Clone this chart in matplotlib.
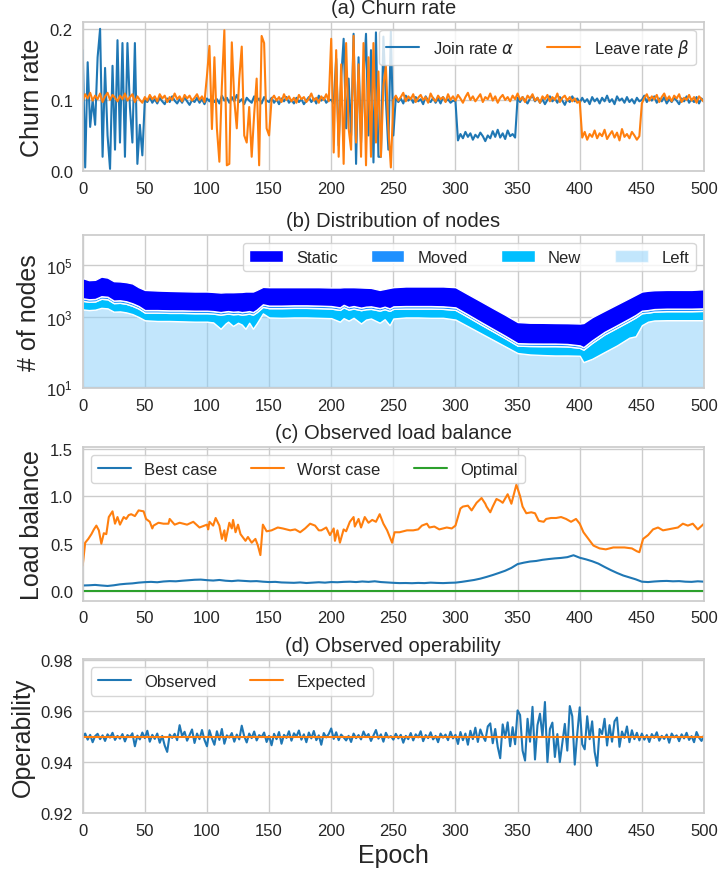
import numpy as np
import matplotlib
matplotlib.use("Agg")
import matplotlib.pyplot as plt
import seaborn as sns
from matplotlib.ticker import NullLocator

# ---- (a) churn rate, sampled every 2 epochs ----
epochs = np.arange(0, 501, 2)

join_rate = [
    # 0-48 (high churn)
    0.170, 0.005, 0.153, 0.062, 0.100, 0.065, 0.160, 0.200, 0.020, 0.145,
    0.050, 0.003, 0.148, 0.030, 0.184, 0.040, 0.180, 0.020, 0.180, 0.090,
    0.040, 0.180, 0.010, 0.065, 0.022,
    # 50-198
    0.100, 0.097, 0.104, 0.096, 0.101, 0.095, 0.103, 0.098, 0.094, 0.102,
    0.097, 0.105, 0.099, 0.095, 0.101, 0.096, 0.104, 0.098, 0.093, 0.100,
    0.097, 0.103, 0.096, 0.101, 0.094,
    0.102, 0.098, 0.105, 0.097, 0.101, 0.095, 0.106, 0.099, 0.103, 0.096,
    0.104, 0.098, 0.107, 0.097, 0.101, 0.094, 0.103, 0.099, 0.096, 0.105,
    0.098, 0.102, 0.095, 0.104, 0.099,
    0.097, 0.103, 0.096, 0.101, 0.094, 0.102, 0.098, 0.104, 0.096, 0.100,
    0.095, 0.103, 0.097, 0.101, 0.094, 0.099, 0.104, 0.097, 0.102, 0.095,
    0.106, 0.099, 0.103, 0.096, 0.100,
    # 200-250 (high churn)
    0.100, 0.095, 0.158, 0.036, 0.130, 0.186, 0.060, 0.130, 0.050, 0.193,
    0.010, 0.160, 0.040, 0.130, 0.193, 0.050, 0.170, 0.012, 0.195, 0.020,
    0.020, 0.189, 0.100, 0.030, 0.196, 0.050,
    # 252-298
    0.104, 0.097, 0.102, 0.095, 0.106, 0.099, 0.103, 0.096, 0.104, 0.098,
    0.101, 0.094, 0.105, 0.099, 0.097, 0.103, 0.096, 0.102, 0.095, 0.104,
    0.098, 0.101, 0.096, 0.099,
    # 300-350 (reduced join)
    0.098, 0.043, 0.052, 0.046, 0.055, 0.048, 0.053, 0.044, 0.051, 0.047,
    0.054, 0.049, 0.042, 0.050, 0.046, 0.056, 0.048, 0.058, 0.047, 0.053,
    0.045, 0.057, 0.049, 0.052, 0.047, 0.103,
    # 352-500
    0.097, 0.104, 0.099, 0.095, 0.102, 0.106, 0.098, 0.103, 0.096, 0.101,
    0.094, 0.100, 0.105, 0.098, 0.102, 0.096, 0.104, 0.099, 0.093, 0.101,
    0.097, 0.105, 0.098, 0.102,
    0.096, 0.103, 0.097, 0.101, 0.094, 0.104, 0.098, 0.102, 0.095, 0.103,
    0.098, 0.106, 0.097, 0.101, 0.094, 0.105, 0.099, 0.102, 0.096, 0.104,
    0.097, 0.101, 0.095, 0.103, 0.098,
    0.100, 0.106, 0.097, 0.103, 0.099, 0.105, 0.096, 0.102, 0.098, 0.104,
    0.095, 0.101, 0.097, 0.103, 0.099, 0.094, 0.102, 0.098, 0.105, 0.096,
    0.101, 0.097, 0.104, 0.095, 0.102, 0.098,
]

leave_rate = [
    # 0-98
    0.098, 0.108, 0.102, 0.110, 0.099, 0.106, 0.101, 0.109, 0.097, 0.105,
    0.110, 0.100, 0.107, 0.103, 0.098, 0.106, 0.101, 0.109, 0.099, 0.104,
    0.108, 0.097, 0.105, 0.100, 0.096,
    0.104, 0.099, 0.107, 0.101, 0.105, 0.098, 0.108, 0.102, 0.106, 0.097,
    0.104, 0.100, 0.109, 0.101, 0.105, 0.098, 0.107, 0.102, 0.106, 0.099,
    0.103, 0.108, 0.100, 0.105, 0.097,
    # 100-150 (high churn)
    0.134, 0.176, 0.059, 0.160, 0.060, 0.013, 0.120, 0.198, 0.008, 0.010,
    0.181, 0.100, 0.060, 0.130, 0.175, 0.050, 0.040, 0.090, 0.020, 0.080,
    0.130, 0.008, 0.190, 0.180, 0.060, 0.050,
    # 152-198
    0.101, 0.106, 0.099, 0.104, 0.097, 0.108, 0.100, 0.105, 0.098, 0.103,
    0.096, 0.107, 0.101, 0.104, 0.097, 0.102, 0.109, 0.099, 0.103, 0.096,
    0.105, 0.100, 0.108, 0.098,
    # 200-250 (high churn)
    0.186, 0.026, 0.170, 0.020, 0.150, 0.010, 0.180, 0.060, 0.030, 0.190,
    0.040, 0.150, 0.020, 0.180, 0.008, 0.160, 0.020, 0.180, 0.040, 0.140,
    0.020, 0.120, 0.148, 0.060, 0.005, 0.100,
    # 252-398
    0.106, 0.099, 0.104, 0.110, 0.098, 0.105, 0.101, 0.108, 0.097, 0.103,
    0.107, 0.100, 0.104, 0.096, 0.109, 0.102, 0.098, 0.106, 0.101, 0.104,
    0.097, 0.108, 0.100, 0.105,
    0.099, 0.107, 0.102, 0.096, 0.104, 0.110, 0.100, 0.105, 0.098, 0.103,
    0.108, 0.097, 0.104, 0.101, 0.109, 0.099, 0.105, 0.096, 0.103, 0.107,
    0.100, 0.104, 0.098, 0.106, 0.101,
    0.109, 0.100, 0.104, 0.097, 0.106, 0.102, 0.108, 0.099, 0.103, 0.096,
    0.105, 0.101, 0.107, 0.098, 0.104, 0.100, 0.109, 0.097, 0.103, 0.106,
    0.099, 0.104, 0.098, 0.102, 0.096,
    # 400-450 (reduced leave)
    0.098, 0.047, 0.055, 0.044, 0.052, 0.048, 0.057, 0.046, 0.053, 0.049,
    0.058, 0.045, 0.051, 0.056, 0.047, 0.054, 0.043, 0.059, 0.048, 0.052,
    0.046, 0.055, 0.050, 0.044, 0.049, 0.095,
    # 452-500
    0.103, 0.108, 0.099, 0.105, 0.101, 0.107, 0.097, 0.104, 0.109, 0.100,
    0.105, 0.098, 0.106, 0.102, 0.108, 0.097, 0.103, 0.100, 0.107, 0.099,
    0.104, 0.096, 0.105, 0.101, 0.097,
]

# ---- (b) node distribution ----
node_epochs = [0, 5, 10, 15, 20, 25, 30, 35, 40, 45, 50, 60, 70, 80, 90, 100,
               105, 111, 115, 117, 121, 125, 128, 131, 134, 137, 140, 145,
               150, 160, 170, 180, 190, 200, 207, 210, 214, 218, 224, 228,
               232, 239, 243, 247, 250, 260, 270, 280, 290, 300, 310, 320,
               330, 340, 350, 360, 370, 380, 390, 400, 403, 410, 420, 430,
               440, 445, 450, 455, 460, 470, 480, 490, 500]
left_nodes = [2030, 1910, 1980, 2320, 2220, 1660, 1700, 1560, 1340, 1045, 960,
              950, 950, 945, 940, 940,
              930, 840, 915, 940, 880, 925, 900, 840, 925, 840, 915, 1425,
              1000, 995, 1000, 1000, 995, 990,
              940, 990, 955, 995, 915, 970, 985, 925, 975, 890, 985,
              1000, 1000, 995, 995, 970,
              875, 780, 685, 590, 495, 475, 467, 461, 461, 457,
              367, 414, 510, 604, 714, 733, 890, 940, 957,
              961, 961, 961, 961]
new_nodes = [2280, 2040, 2090, 2830, 2700, 1860, 1910, 1750, 1430, 1135, 570,
             580, 540, 545, 510, 510,
             470, 440, 450, 460, 445, 440, 380, 490, 475, 440, 670, 1110,
             1260, 1265, 1320, 1320, 1265, 1190,
             1000, 1435, 1040, 1185, 980, 1095, 1140, 900, 1090, 890, 1140,
             1180, 1180, 1185, 1130, 970,
             170, 125, 120, 115, 105, 120, 126, 132, 128, 112,
             176, 226, 250, 250, 236, 267, 560, 590, 714,
             770, 770, 770, 817]
moved_nodes = [1070, 980, 990, 1280, 1220, 870, 900, 820, 690, 540, 380,
               380, 370, 370, 360, 360,
               350, 320, 340, 350, 330, 340, 320, 330, 350, 320, 390, 630,
               560, 560, 575, 575, 560, 540,
               480, 600, 495, 540, 470, 510, 525, 455, 510, 440, 525,
               540, 540, 540, 525, 480,
               260, 35, 35, 35, 35, 35, 36, 36, 35, 35,
               36, 36, 36, 36, 36, 248, 360, 380, 415,
               430, 430, 430, 441]
static_nodes = [26240, 21570, 22150, 29690, 26910, 19860, 19100, 18070, 16320,
                11530, 9310,
                8730, 8410, 8140, 7930, 7930,
                7650, 7310, 7450, 7400, 7500, 7610, 7800, 8080, 7990, 8140,
                9240, 11470,
                11430, 11430, 11360, 11360, 11430, 11160,
                11450, 11225, 11760, 11530, 11520, 11060, 10745, 8940, 9680,
                11175, 11600,
                12440, 12440, 12440, 12510, 11830,
                6430, 3290, 1455, 520, 300, 295, 295, 292, 295, 310,
                342, 351, 1014, 2272, 4539, 6087, 7927, 8545, 8840,
                9059, 9059, 9059, 9719]

# ---- (c) load balance ----
best_epochs = np.arange(0, 501, 5)
best_case = [0.060, 0.062, 0.066, 0.060, 0.055, 0.062, 0.072, 0.078, 0.082, 0.090,
             0.095, 0.098, 0.094, 0.102, 0.106, 0.104, 0.110, 0.115, 0.120, 0.122,
             0.116, 0.112, 0.118, 0.110, 0.106, 0.112, 0.108, 0.104, 0.106, 0.100,
             0.096, 0.098, 0.092, 0.090, 0.088, 0.092, 0.086, 0.090, 0.094, 0.090,
             0.096, 0.094, 0.098, 0.100, 0.096, 0.102, 0.098, 0.104, 0.096, 0.092,
             0.088, 0.085, 0.086, 0.084, 0.087, 0.085, 0.090, 0.087, 0.085, 0.088,
             0.090, 0.098, 0.108, 0.118, 0.132, 0.150, 0.170, 0.192, 0.215, 0.245,
             0.285, 0.300, 0.312, 0.318, 0.330, 0.338, 0.345, 0.350, 0.358, 0.378,
             0.352, 0.335, 0.315, 0.290, 0.255, 0.222, 0.192, 0.165, 0.145, 0.125,
             0.100, 0.096, 0.102, 0.106, 0.108, 0.104, 0.106, 0.100, 0.098, 0.104,
             0.100]

worst_epochs = [0, 2, 4.5, 7, 9, 11, 13, 15, 17, 19, 21, 24, 26, 28, 30, 33, 35,
                37, 39, 42, 45, 49, 51, 54, 56, 57, 61, 65, 69, 70, 74, 78, 84,
                89, 94, 100, 101, 102, 105, 107, 110, 112, 114, 115, 118, 120,
                121, 123, 125, 127, 131, 133, 136, 139, 141, 143, 145, 148, 152,
                157, 161, 167, 171, 175, 179, 183, 187, 190, 192, 196, 199, 202,
                203, 205, 207, 210, 212, 215, 218, 219, 222, 224, 227, 230, 233,
                236, 239, 242, 245, 249, 251, 255, 261, 266, 270, 273, 277, 279,
                283, 287, 293, 297, 300, 304, 306, 310, 313, 317, 321, 324, 325,
                328, 330, 333, 336, 338, 342, 345, 349, 352, 354, 357, 361, 364,
                367, 371, 373, 377, 381, 385, 389, 393, 397, 400, 403, 407, 411,
                416, 421, 427, 431, 436, 442, 446, 448, 451, 455, 459, 463, 467,
                471, 475, 479, 483, 487, 491, 495, 500]
worst_case = [0.27, 0.51, 0.55, 0.60, 0.65, 0.69, 0.64, 0.50, 0.61, 0.60, 0.78,
              0.84, 0.71, 0.78, 0.70, 0.78, 0.76, 0.80, 0.81, 0.79, 0.85, 0.84,
              0.76, 0.73, 0.66, 0.69, 0.72, 0.71, 0.71, 0.76, 0.70, 0.72, 0.70,
              0.73, 0.67, 0.70, 0.65, 0.73, 0.69, 0.77, 0.69, 0.55, 0.64, 0.53,
              0.72, 0.66, 0.75, 0.62, 0.70, 0.60, 0.53, 0.57, 0.51, 0.55, 0.48,
              0.38, 0.70, 0.63, 0.64, 0.67, 0.66, 0.64, 0.65, 0.62, 0.66, 0.71,
              0.69, 0.64, 0.64, 0.67, 0.59, 0.66, 0.53, 0.64, 0.51, 0.65, 0.63,
              0.73, 0.78, 0.68, 0.76, 0.67, 0.78, 0.72, 0.75, 0.73, 0.81, 0.71,
              0.64, 0.51, 0.62, 0.62, 0.64, 0.64, 0.65, 0.69, 0.71, 0.67, 0.68,
              0.65, 0.67, 0.66, 0.69, 0.87, 0.89, 0.90, 0.85, 0.93, 0.98, 0.92,
              0.89, 0.83, 0.89, 0.97, 0.95, 0.93, 1.02, 0.92, 1.12, 1.00, 0.89,
              0.82, 0.83, 0.82, 0.74, 0.73, 0.76, 0.77, 0.77, 0.78, 0.76, 0.73,
              0.76, 0.71, 0.62, 0.55, 0.48, 0.45, 0.44, 0.46, 0.46, 0.46, 0.45,
              0.42, 0.41, 0.55, 0.59, 0.65, 0.67, 0.64, 0.65, 0.66, 0.67, 0.71,
              0.69, 0.71, 0.65, 0.71]
optimal_load = 0.0

# ---- (d) operability, every 2 epochs ----
observed_operability = [
    0.9495, 0.9512, 0.9488, 0.9507, 0.9478, 0.9502, 0.9511, 0.9490, 0.9505, 0.9483,
    0.9509, 0.9496, 0.9515, 0.9487, 0.9503, 0.9492, 0.9510, 0.9481, 0.9506, 0.9498,
    0.9513, 0.9462, 0.9504, 0.9489, 0.9516,
    0.9494, 0.9523, 0.9480, 0.9507, 0.9491, 0.9512, 0.9476, 0.9503, 0.9465, 0.9440,
    0.9508, 0.9495, 0.9511, 0.9486, 0.9545, 0.9502, 0.9519, 0.9484, 0.9506, 0.9528,
    0.9475, 0.9512, 0.9490, 0.9526, 0.9487,
    0.9462, 0.9525, 0.9493, 0.9468, 0.9521, 0.9487, 0.9530, 0.9472, 0.9505, 0.9496,
    0.9514, 0.9480, 0.9508, 0.9489, 0.9543, 0.9501, 0.9477, 0.9512, 0.9494, 0.9520,
    0.9485, 0.9506, 0.9498, 0.9516, 0.9479,
    0.9503, 0.9466, 0.9511, 0.9490, 0.9518, 0.9472, 0.9507, 0.9495, 0.9521, 0.9484,
    0.9513, 0.9500, 0.9524, 0.9488, 0.9509, 0.9478, 0.9516, 0.9493, 0.9522, 0.9486,
    0.9505, 0.9468, 0.9514, 0.9497, 0.9510,
    0.9532, 0.9491, 0.9517, 0.9486, 0.9508, 0.9497, 0.9485, 0.9503, 0.9479, 0.9512,
    0.9494, 0.9506, 0.9489, 0.9520, 0.9498, 0.9510, 0.9483, 0.9504, 0.9526, 0.9492,
    0.9509, 0.9480, 0.9515, 0.9496, 0.9502,
    0.9488, 0.9511, 0.9493, 0.9507, 0.9476, 0.9503, 0.9490, 0.9514, 0.9485, 0.9509,
    0.9497, 0.9521, 0.9482, 0.9506, 0.9494, 0.9517, 0.9489, 0.9503, 0.9478, 0.9512,
    0.9496, 0.9508, 0.9486, 0.9519, 0.9493,
    0.9507, 0.9471, 0.9518, 0.9486, 0.9512, 0.9468, 0.9523, 0.9490, 0.9535, 0.9479,
    0.9528, 0.9502, 0.9483, 0.9540, 0.9552, 0.9474, 0.9530, 0.9460, 0.9415, 0.9548,
    0.9495, 0.9556, 0.9462, 0.9537, 0.9470,
    0.9603, 0.9585, 0.9445, 0.9406, 0.9570, 0.9480, 0.9617, 0.9410, 0.9545, 0.9590,
    0.9500, 0.9636, 0.9400, 0.9530, 0.9555, 0.9420, 0.9510, 0.9400, 0.9475, 0.9550,
    0.9445, 0.9620, 0.9580, 0.9390, 0.9510,
    0.9615, 0.9470, 0.9450, 0.9580, 0.9490, 0.9560, 0.9440, 0.9385, 0.9530, 0.9510,
    0.9570, 0.9465, 0.9545, 0.9480, 0.9560, 0.9575, 0.9460, 0.9520, 0.9495, 0.9540,
    0.9478, 0.9525, 0.9490, 0.9515, 0.9485,
    0.9512, 0.9488, 0.9506, 0.9479, 0.9510, 0.9495, 0.9517, 0.9484, 0.9503, 0.9491,
    0.9508, 0.9476, 0.9512, 0.9497, 0.9505, 0.9482, 0.9509, 0.9493, 0.9515, 0.9487,
    0.9502, 0.9478, 0.9518, 0.9496, 0.9483, 0.9505,
]
expected_operability = 0.95

epoch_ticks = np.arange(0, 501, 50)


def style_axis(ax, title):
    ax.set_xlim(0, 500)
    ax.set_xticks(epoch_ticks)
    ax.set_title(title, fontsize=14.5)
    ax.tick_params(labelsize=12)


sns.set_style("whitegrid")
plt.rcParams['font.family'] = ['Liberation Sans', 'DejaVu Sans']
plt.rcParams['axes.linewidth'] = 1.25
plt.rcParams['grid.linewidth'] = 1.0

fig = plt.figure(figsize=(7.21, 8.70), dpi=100)
left, width = 0.1147, 0.8617
ax_a = fig.add_axes([left, 0.8023, width, 0.1716])
ax_b = fig.add_axes([left, 0.5529, width, 0.1762])
ax_c = fig.add_axes([left, 0.3084, width, 0.1770])
ax_d = fig.add_axes([left, 0.0644, width, 0.1770])

# (a)
ax_a.plot(epochs, join_rate, color='tab:blue', lw=1.5, label=r'Join rate $\alpha$')
ax_a.plot(epochs, leave_rate, color='tab:orange', lw=1.5, label=r'Leave rate $\beta$')
ax_a.set_ylim(0, 0.21)
ax_a.set_yticks([0.0, 0.1, 0.2])
ax_a.set_ylabel('Churn rate', fontsize=18)
ax_a.legend(loc='upper right', ncol=2, fontsize=12)
style_axis(ax_a, '(a) Churn rate')

# (b)
polys = ax_b.stackplot(node_epochs, left_nodes, new_nodes, moved_nodes, static_nodes,
                       colors=['lightskyblue', 'deepskyblue', 'dodgerblue', 'blue'],
                       labels=['Left', 'New', 'Moved', 'Static'],
                       edgecolor='white', linewidth=1.0)
polys[0].set_alpha(0.5)
ax_b.set_yscale('symlog', linthresh=1000, linscale=2.42)
ax_b.set_ylim(0, 1.43e6)
ax_b.set_yticks([10, 1e3, 1e5],
                labels=[r'$\mathdefault{10^{1}}$', r'$\mathdefault{10^{3}}$',
                        r'$\mathdefault{10^{5}}$'])
ax_b.yaxis.set_minor_locator(NullLocator())
ax_b.set_ylabel('# of nodes', fontsize=18)
handles, labels = ax_b.get_legend_handles_labels()
ax_b.legend(handles[::-1], labels[::-1], loc='upper right', ncol=4, fontsize=12)
style_axis(ax_b, '(b) Distribution of nodes')

# (c)
ax_c.plot(best_epochs, best_case, color='tab:blue', lw=1.5, label='Best case')
ax_c.plot(worst_epochs, worst_case, color='tab:orange', lw=1.5, label='Worst case')
ax_c.axhline(optimal_load, color='tab:green', lw=1.5, label='Optimal')
ax_c.set_ylim(-0.1, 1.52)
ax_c.set_yticks([0.0, 0.5, 1.0, 1.5])
ax_c.set_ylabel('Load balance', fontsize=18)
ax_c.legend(loc='upper left', ncol=3, fontsize=12)
style_axis(ax_c, '(c) Observed load balance')

# (d)
ax_d.plot(epochs, observed_operability, color='tab:blue', lw=1.5, label='Observed')
ax_d.axhline(expected_operability, color='tab:orange', lw=1.5, label='Expected')
ax_d.set_ylim(0.92, 0.9805)
ax_d.set_yticks([0.92, 0.94, 0.96, 0.98])
ax_d.set_ylabel('Operability', fontsize=18)
ax_d.set_xlabel('Epoch', fontsize=18)
ax_d.legend(loc='upper left', ncol=2, fontsize=12)
style_axis(ax_d, '(d) Observed operability')

fig.savefig('out.png', dpi=100)
plt.close(fig)
